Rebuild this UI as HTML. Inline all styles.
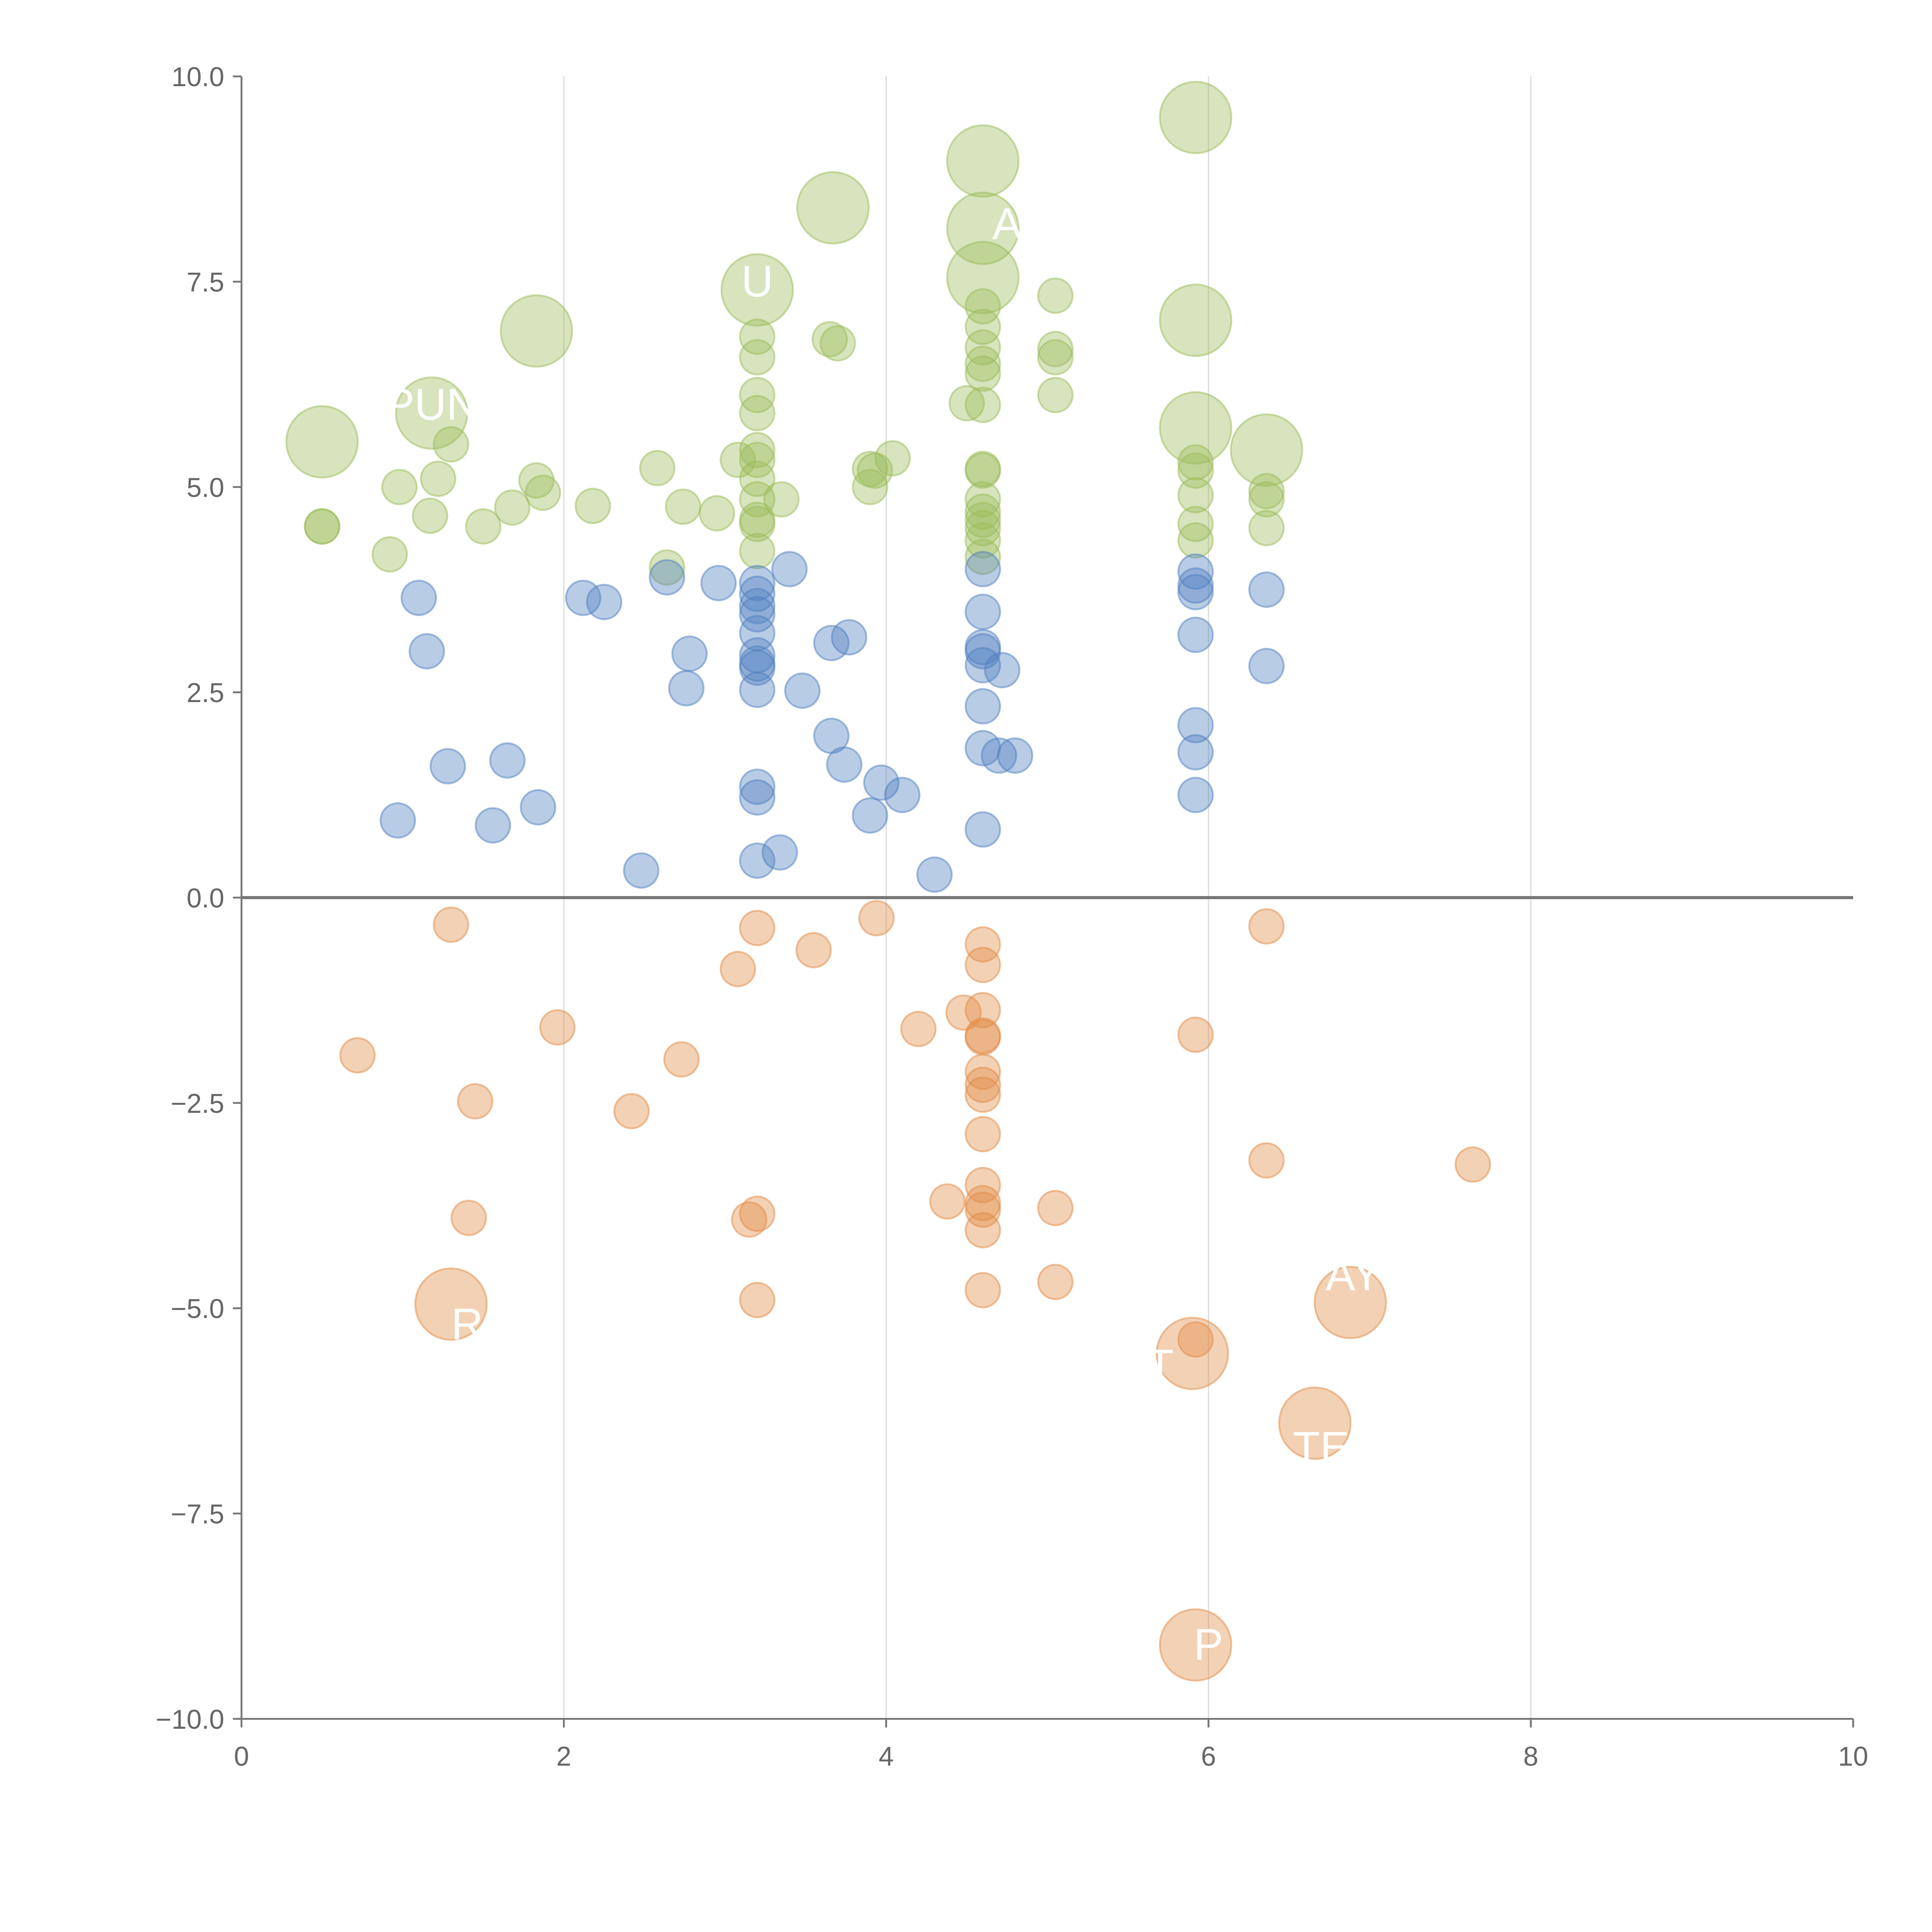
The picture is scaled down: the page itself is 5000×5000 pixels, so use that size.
<!DOCTYPE html>
<html><head><meta charset="utf-8"><style>html,body{margin:0;padding:0;background:#fff}svg{display:block}</style></head>
<body>
<svg id="chart" width="5000" height="5000" viewBox="0 0 1568 1568" xmlns="http://www.w3.org/2000/svg" font-family="Liberation Sans, sans-serif">
<g id="grid"></g>
<g id="marks"></g>
<g id="axes"></g>
</svg>
<script>
const xTicks=[0,2,4,6,8,10];
const yTicks=[-10,-7.5,-5,-2.5,0,2.5,5,7.5,10];
const greenX=[0.5,0.5,0.5,0.92,0.98,1.17,1.22,1.3,1.18,1.5,1.68,1.83,1.87,1.83,2.18,2.58,2.64,2.74,2.95,3.08,3.2,3.2,3.2,3.2,3.2,3.2,3.2,3.2,3.2,3.2,3.2,3.2,3.35,3.65,3.7,3.67,3.9,3.9,3.93,4.04,4.5,4.6,4.6,4.6,4.6,4.6,4.6,4.6,4.6,4.6,4.6,4.6,4.6,4.6,4.6,4.6,4.6,4.6,5.05,5.05,5.05,5.05,5.92,5.92,5.92,5.92,5.92,5.92,5.92,5.92,6.36,6.36,6.36,6.36];
const greenY=[5.55,4.52,4.52,4.18,5.0,4.65,5.1,5.52,5.9,4.52,4.75,5.08,4.93,6.9,4.77,5.23,4.02,4.76,4.68,5.33,7.4,6.83,6.58,6.12,5.9,5.45,5.33,5.1,4.85,4.6,4.55,4.22,4.85,6.8,6.75,8.4,5.0,5.22,5.2,5.35,6.02,8.97,8.15,7.55,7.2,6.95,6.7,6.5,6.38,6.0,5.22,5.2,4.85,4.7,4.6,4.5,4.35,4.15,7.33,6.68,6.58,6.12,9.5,7.03,5.72,5.3,5.2,4.9,4.55,4.35,5.45,4.95,4.85,4.5];
const greenS=[2,1,1,1,1,1,1,1,2,1,1,1,1,2,1,1,1,1,1,1,2,1,1,1,1,1,1,1,1,1,1,1,1,1,1,2,1,1,1,1,1,2,2,2,1,1,1,1,1,1,1,1,1,1,1,1,1,1,1,1,1,1,2,2,2,1,1,1,1,1,2,1,1,1];
const blueX=[1.1,1.15,0.97,1.28,1.56,1.65,1.84,2.12,2.25,2.48,2.64,2.76,2.78,2.96,3.2,3.2,3.2,3.2,3.2,3.2,3.2,3.2,3.2,3.2,3.2,3.2,3.34,3.4,3.48,3.66,3.77,3.66,3.74,3.9,3.97,4.1,4.3,4.6,4.6,4.6,4.6,4.6,4.72,4.6,4.6,4.7,4.8,4.6,5.92,5.92,5.92,5.92,5.92,5.92,5.92,6.36,6.36];
const blueY=[3.65,3.0,0.94,1.6,0.88,1.67,1.1,3.65,3.6,0.33,3.9,2.55,2.97,3.83,3.83,3.7,3.55,3.45,3.22,2.95,2.85,2.8,2.53,1.35,1.22,0.45,0.55,4.0,2.52,3.1,3.17,1.97,1.62,1.0,1.4,1.25,0.28,4.0,3.48,3.05,3.0,2.83,2.77,2.33,1.82,1.73,1.73,0.83,3.97,3.8,3.72,3.2,2.1,1.77,1.25,3.75,2.82];
const orangeX=[1.3,0.72,1.45,1.41,1.3,1.96,2.42,2.73,3.08,3.2,3.55,3.94,3.15,3.2,3.2,4.2,4.48,4.6,4.6,4.6,4.6,4.6,4.6,4.6,4.6,4.6,4.6,4.6,4.6,4.6,4.6,4.38,5.05,5.05,5.92,5.9,5.92,5.92,6.36,6.36,6.66,6.88,7.64];
const orangeY=[-0.33,-1.92,-2.48,-3.9,-4.95,-1.58,-2.6,-1.97,-0.87,-0.37,-0.64,-0.25,-3.92,-3.85,-4.9,-1.6,-1.4,-0.57,-0.82,-1.37,-1.68,-1.7,-2.12,-2.28,-2.4,-2.88,-3.5,-3.72,-3.8,-4.05,-4.78,-3.7,-3.78,-4.68,-1.67,-5.55,-5.38,-9.1,-0.35,-3.2,-6.4,-4.93,-3.25];
const orangeS=[1,1,1,1,2,1,1,1,1,1,1,1,1,1,1,1,1,1,1,1,1,1,1,1,1,1,1,1,1,1,1,1,1,1,1,2,1,2,1,1,2,2,1];
const labelText=["PUN","U","A","E","P","T","TE","AY","R"];
const labelX=[1.18,3.2,4.75,5.6,6.0,5.7,6.7,6.9,1.4];
const labelY=[6.0,7.5,8.2,5.9,-9.1,-5.7,-6.7,-4.6,-5.2];

const NS="http://www.w3.org/2000/svg";
const X0=196,X1=1504,Y0=1395,Y1=62;
const sx=v=>X0+(v-0)/(10-0)*(X1-X0);
const sy=v=>Y0-(v+10)/20*(Y0-Y1);
function mk(tag,attrs,parent){const e=document.createElementNS(NS,tag);for(const k in attrs)e.setAttribute(k,attrs[k]);parent.appendChild(e);return e;}
const grid=document.getElementById('grid'),marks=document.getElementById('marks'),axes=document.getElementById('axes');
xTicks.forEach(t=>{if(t===0||t===10)return;
 const l=mk('line',{x1:sx(t),x2:sx(t),y1:Y1,y2:Y0,stroke:'#dcdcdc','stroke-width':1},grid);
 
 });
function drawSeries(xs,ys,ss,fill,stroke,name){
 xs.forEach((x,i)=>{const r=(ss&&ss[i]===2)?29:14;
  const c=mk('circle',{cx:sx(x),cy:sy(ys[i]),r:r,fill:fill,'fill-opacity':0.4,stroke:stroke,'stroke-opacity':0.5,'stroke-width':1.5},marks);
  
  });}
drawSeries(greenX,greenY,greenS,'#9bbb59','#9bbb59','bubble-green');
drawSeries(blueX,blueY,null,'#4f7fc0','#4f7fc0','bubble-blue');
drawSeries(orangeX,orangeY,orangeS,'#e28b45','#e28b45','bubble-orange');
labelText.forEach((t,i)=>{
 const e=mk('text',{x:sx(labelX[i]),y:sy(labelY[i])+12,fill:'#fff','font-size':36,'text-anchor':'middle'},marks);
 e.textContent=t;
 
 });
const z=mk('line',{x1:X0,x2:X1,y1:sy(0),y2:sy(0),stroke:'#777','stroke-width':2.5},axes);


const ya=mk('line',{x1:X0,x2:X0,y1:Y1,y2:Y0,stroke:'#777','stroke-width':1.5},axes);


const xa=mk('line',{x1:X0,x2:X1,y1:Y0,y2:Y0,stroke:'#777','stroke-width':1.5},axes);


yTicks.forEach(t=>{
 const tk=mk('line',{x1:X0-7,x2:X0,y1:sy(t),y2:sy(t),stroke:'#777','stroke-width':1.5},axes);
 
 
 const tx=mk('text',{x:X0-14,y:sy(t)+8,fill:'#666','font-size':22,'text-anchor':'end'},axes);
 tx.textContent=t.toFixed(1).replace('-','\u2212');
 
 });
xTicks.forEach(t=>{
 const tk=mk('line',{x1:sx(t),x2:sx(t),y1:Y0,y2:Y0+7,stroke:'#777','stroke-width':1.5},axes);
 
 
 const tx=mk('text',{x:sx(t),y:Y0+38,fill:'#666','font-size':22,'text-anchor':'middle'},axes);
 tx.textContent=String(t);
 
 });
</script>
</body></html>
